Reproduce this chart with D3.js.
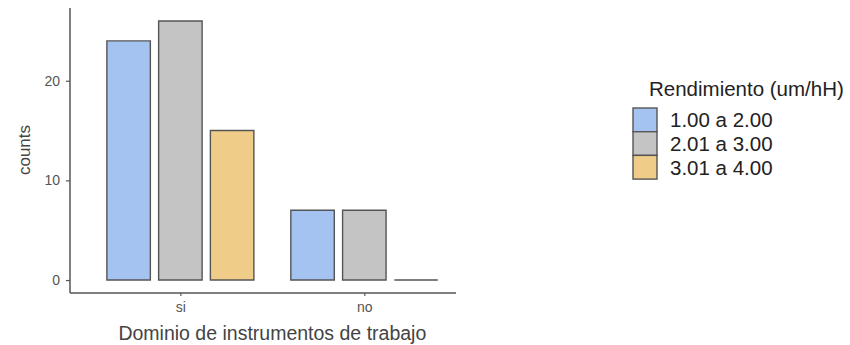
<!DOCTYPE html>
<html>
<head>
<meta charset="utf-8">
<script src="https://cdn.jsdelivr.net/npm/d3@7"></script>
<style>
  html, body { margin: 0; padding: 0; background: #fff; }
  svg { display: block; font-family: "Liberation Sans", Arial, sans-serif; }
</style>
</head>
<body>
<svg id="chart" width="850" height="345"></svg>
<script>
// Grouped counts of "Rendimiento" class per answer to "Dominio de instrumentos de trabajo"
const groups = ["si", "no"];
const series = ["1.00 a 2.00", "2.01 a 3.00", "3.01 a 4.00"];
const countsSi = [24, 26, 15];
const countsNo = [7, 7, 0];
const colors = ["#a5c3f1", "#c4c4c4", "#f0cc89"];
const yTicks = [0, 10, 20];

const values = { si: countsSi, no: countsNo };

const svg = d3.select("#chart");
const plotLeft = 70, plotRight = 474.7, plotTop = 8, plotBottom = 293;

// discrete x positions (0.6 expansion on each side)
const x = d3.scalePoint().domain(groups).range([plotLeft, plotRight]).padding(0.6);
const inner = d3.scaleBand().domain(series).range([-73.5, 73.5]).paddingInner(0.16).paddingOuter(0);
const yMax = d3.max([...countsSi, ...countsNo]);
const y = d3.scaleLinear().domain([-0.05 * yMax, yMax * 1.05]).range([plotBottom, plotTop]);

// bars (drawn as paths so a zero-height bar still shows its outline)
const bars = [];
groups.forEach(g => values[g].forEach((v, i) => bars.push({ g, s: series[i], v, c: colors[i] })));
svg.append("g").selectAll("path").data(bars).join("path")
  .attr("d", d => {
    const x0 = x(d.g) + inner(d.s), w = inner.bandwidth();
    const y0 = y(0), y1 = y(d.v);
    return `M${x0},${y0}V${y1}H${x0 + w}V${y0}Z`;
  })
  .attr("fill", d => d.c)
  .attr("stroke", "#555")
  .attr("stroke-width", 1.4);

// y axis
const yAxis = svg.append("g").attr("transform", `translate(${plotLeft},0)`)
  .call(d3.axisLeft(y).tickValues(yTicks).tickSize(4).tickPadding(6).tickSizeOuter(0));
yAxis.select(".domain").attr("stroke", "#555").attr("stroke-width", 1.5).attr("d", `M0,${plotTop}V${plotBottom}`);
yAxis.selectAll(".tick line").attr("stroke", "#555").attr("stroke-width", 1.2);
yAxis.selectAll(".tick text").attr("fill", "#555").attr("font-size", 14).attr("font-family", "Liberation Sans, Arial, sans-serif");

// x axis
const xAxis = svg.append("g").attr("transform", `translate(0,${plotBottom})`)
  .call(d3.axisBottom(x).tickSize(3).tickPadding(6).tickSizeOuter(0));
xAxis.select(".domain").attr("stroke", "#555").attr("stroke-width", 1.5).attr("d", `M${plotLeft},0H456`);
xAxis.selectAll(".tick line").attr("stroke", "#555").attr("stroke-width", 1.2);
xAxis.selectAll(".tick text").attr("fill", "#555").attr("font-size", 14).attr("font-family", "Liberation Sans, Arial, sans-serif");

// axis titles
svg.append("text")
  .attr("x", (plotLeft + plotRight) / 2).attr("y", 340)
  .attr("text-anchor", "middle").attr("font-size", 19.5).attr("fill", "#444")
  .text("Dominio de instrumentos de trabajo");
svg.append("text")
  .attr("transform", `translate(30,150) rotate(-90)`)
  .attr("text-anchor", "middle").attr("font-size", 17).attr("fill", "#444")
  .text("counts");

// legend
const legend = svg.append("g").attr("transform", "translate(633,108)");
legend.append("text").attr("x", 16).attr("y", -12).attr("font-size", 20.5).attr("fill", "#222")
  .text("Rendimiento (um/hH)");
const keyH = 23.7, keyW = 24;
const items = legend.selectAll("g.item").data(series).join("g").attr("class", "item")
  .attr("transform", (d, i) => `translate(0,${i * keyH})`);
items.append("rect").attr("x", 0).attr("y", 0).attr("width", keyW).attr("height", keyH)
  .attr("fill", (d, i) => colors[i]).attr("stroke", "#555").attr("stroke-width", 1.4);
items.append("text").attr("x", 37).attr("y", keyH / 2 + 7.5).attr("font-size", 20.5).attr("fill", "#222")
  .text(d => d);
</script>
</body>
</html>
